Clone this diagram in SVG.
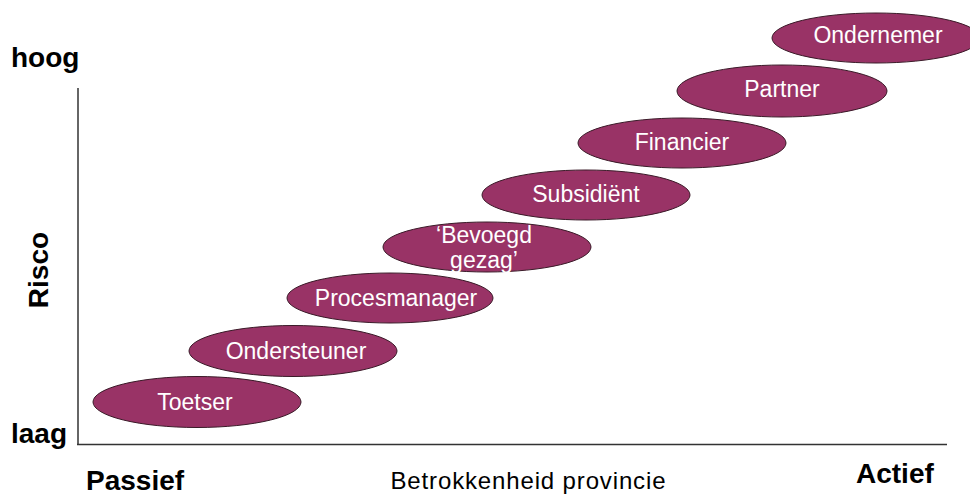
<svg xmlns="http://www.w3.org/2000/svg" width="970" height="495" viewBox="0 0 970 495">
<style>
.n ellipse{fill:#993366;stroke:#3a1a28;stroke-width:1}
.n text{fill:#fff;font-family:"Liberation Sans",Arial,sans-serif;font-size:23px;text-anchor:middle}
.ax{stroke:#333;stroke-width:1.5;fill:none}
.lb{font-family:"Liberation Sans",Arial,sans-serif;font-weight:bold;font-size:28px;fill:#000}
</style>
<rect width="970" height="495" fill="#fff"/>
<g id="axes">
<line class="ax" x1="78" y1="88" x2="78" y2="445"/>
<line class="ax" x1="77" y1="444.5" x2="947" y2="444.5"/>
</g>
<text class="lb" x="11" y="67">hoog</text>
<text class="lb" x="11" y="443">laag</text>
<text class="lb" transform="translate(48,270) rotate(-90)" text-anchor="middle">Risco</text>
<text class="lb" x="86" y="490">Passief</text>
<text class="lb" x="856" y="483">Actief</text>
<text x="528" y="489" font-family="Liberation Sans,Arial,sans-serif" font-size="24" text-anchor="middle" textLength="275" fill="#000">Betrokkenheid provincie</text>
<g id="connectors"></g>
<g id="toetser" class="n"><ellipse cx="197" cy="402" rx="104" ry="25.5"/><text x="195" y="410">Toetser</text></g>
<g id="ondersteuner" class="n"><ellipse cx="293" cy="351" rx="104" ry="25.5"/><text x="296" y="359">Ondersteuner</text></g>
<g id="procesmanager" class="n"><ellipse cx="390" cy="298" rx="103" ry="25"/><text x="396" y="306">Procesmanager</text></g>
<g id="bevoegd" class="n"><ellipse cx="487" cy="247" rx="104" ry="25"/><text x="484" y="243">‘Bevoegd</text><text x="484" y="268">gezag’</text></g>
<g id="subsidient" class="n"><ellipse cx="586" cy="195" rx="104" ry="25"/><text x="586" y="202">Subsidiënt</text></g>
<g id="financier" class="n"><ellipse cx="682" cy="143" rx="104" ry="25"/><text x="682" y="150">Financier</text></g>
<g id="partner" class="n"><ellipse cx="782" cy="91" rx="105" ry="26"/><text x="782" y="97">Partner</text></g>
<g id="ondernemer" class="n"><ellipse cx="876" cy="38" rx="104" ry="25"/><text x="878" y="43">Ondernemer</text></g>
</svg>
